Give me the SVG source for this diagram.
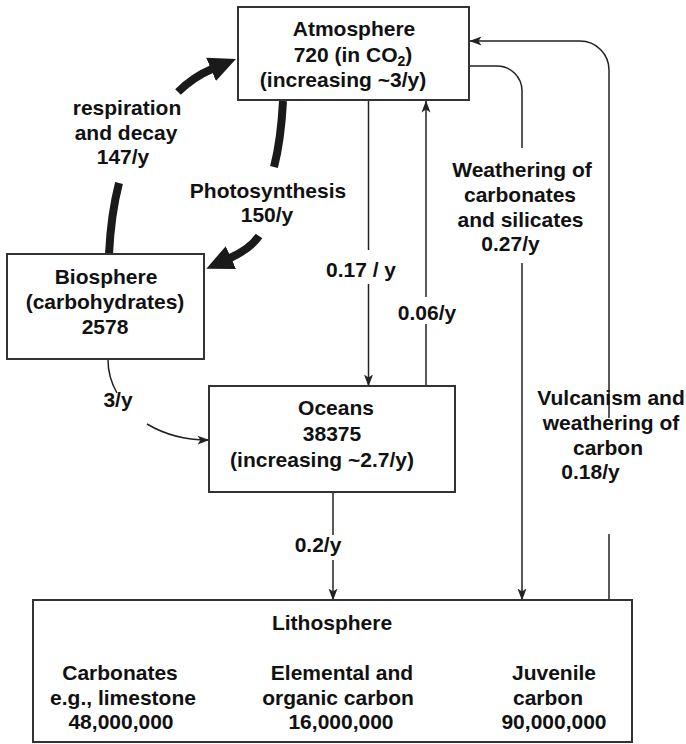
<svg xmlns="http://www.w3.org/2000/svg" width="686" height="744" viewBox="0 0 686 744">
<defs>
<style>
text{font-family:"Liberation Sans",Arial,sans-serif;font-weight:bold;font-size:21px;fill:#111;text-anchor:middle}
.box{fill:#fff;stroke:#333;stroke-width:2}
.thin{fill:none;stroke:#222;stroke-width:1.5}
.thick{fill:none;stroke:#1a1a1a;stroke-width:8}
</style>
<marker id="arr" viewBox="0 -5 12 10" markerWidth="12" markerHeight="10" refX="11.5" refY="0" orient="auto" markerUnits="userSpaceOnUse">
<path d="M0,-4.5 L12,0 L0,4.5 L3,0 z" fill="#222"/>
</marker>
<marker id="big" viewBox="0 -13 28 26" markerWidth="28" markerHeight="26" refX="1" refY="0" orient="auto" markerUnits="userSpaceOnUse">
<path d="M0,-12.5 L27,0 L0,12.5 z" fill="#1a1a1a"/>
</marker>
</defs>

<g id="connectors">
<path class="thick" d="M109,254 Q111,214 119,183"/>
<path class="thick" d="M178,92 Q193,77 212,69" marker-end="url(#big)"/>
<path class="thick" d="M283,101 Q281,140 274,167"/>
<path class="thick" d="M259,236 Q250,249 230,258" marker-end="url(#big)"/>
<path class="thin" d="M368.5,101 V250"/>
<path class="thin" d="M368.5,284 V386" marker-end="url(#arr)"/>
<path class="thin" d="M426,386 V324"/>
<path class="thin" d="M426,297 V101" marker-end="url(#arr)"/>
<path class="thin" d="M470,66 H497 A25,25 0 0 1 522,91 V148"/>
<path class="thin" d="M522,263 V600" marker-end="url(#arr)"/>
<path class="thin" d="M609,600 V534"/>
<path class="thin" d="M609,418 V70 A29,29 0 0 0 580,41 H470" marker-end="url(#arr)"/>
<path class="thin" d="M333,492 V535"/>
<path class="thin" d="M333,560 V600" marker-end="url(#arr)"/>
<path class="thin" d="M108,360 A101,80 0 0 0 117,393"/>
<path class="thin" d="M147,424 A101,80 0 0 0 209,440" marker-end="url(#arr)"/>
</g>

<g id="labels">
<text x="127" y="115">respiration</text>
<text x="126" y="140">and decay</text>
<text x="123" y="164">147/y</text>
<text x="268" y="198">Photosynthesis</text>
<text x="267" y="222">150/y</text>
<text x="361" y="277">0.17 / y</text>
<text x="427" y="320">0.06/y</text>
<text x="522" y="177">Weathering of</text>
<text x="520" y="202">carbonates</text>
<text x="520.5" y="227">and silicates</text>
<text x="510.5" y="251">0.27/y</text>
<text x="611" y="405">Vulcanism and</text>
<text x="611" y="430">weathering of</text>
<text x="608" y="455">carbon</text>
<text x="590.5" y="479">0.18/y</text>
<text x="118" y="407">3/y</text>
<text x="318" y="552">0.2/y</text>
</g>

<g id="atmosphere">
<rect class="box" x="238" y="7" width="231" height="93"/>
<text x="354" y="36">Atmosphere</text>
<text x="353" y="62">720 (in CO<tspan font-size="14" dy="4">2</tspan><tspan dy="-4">)</tspan></text>
<text x="343" y="87">(increasing ~3/y)</text>
</g>

<g id="biosphere">
<rect class="box" x="7" y="254" width="197" height="105"/>
<text x="106" y="284">Biosphere</text>
<text x="105" y="309">(carbohydrates)</text>
<text x="105" y="334">2578</text>
</g>

<g id="oceans">
<rect class="box" x="209" y="386" width="246" height="106"/>
<text x="336" y="415">Oceans</text>
<text x="332" y="441">38375</text>
<text x="322" y="467">(increasing ~2.7/y)</text>
</g>

<g id="lithosphere">
<rect class="box" x="33" y="600" width="599" height="142"/>
<text x="332" y="630">Lithosphere</text>
<text x="120" y="680">Carbonates</text>
<text x="123" y="705">e.g., limestone</text>
<text x="121" y="729">48,000,000</text>
<text x="342" y="680">Elemental and</text>
<text x="338" y="705">organic carbon</text>
<text x="341" y="729">16,000,000</text>
<text x="554" y="680">Juvenile</text>
<text x="548" y="705">carbon</text>
<text x="554" y="729">90,000,000</text>
</g>
</svg>
